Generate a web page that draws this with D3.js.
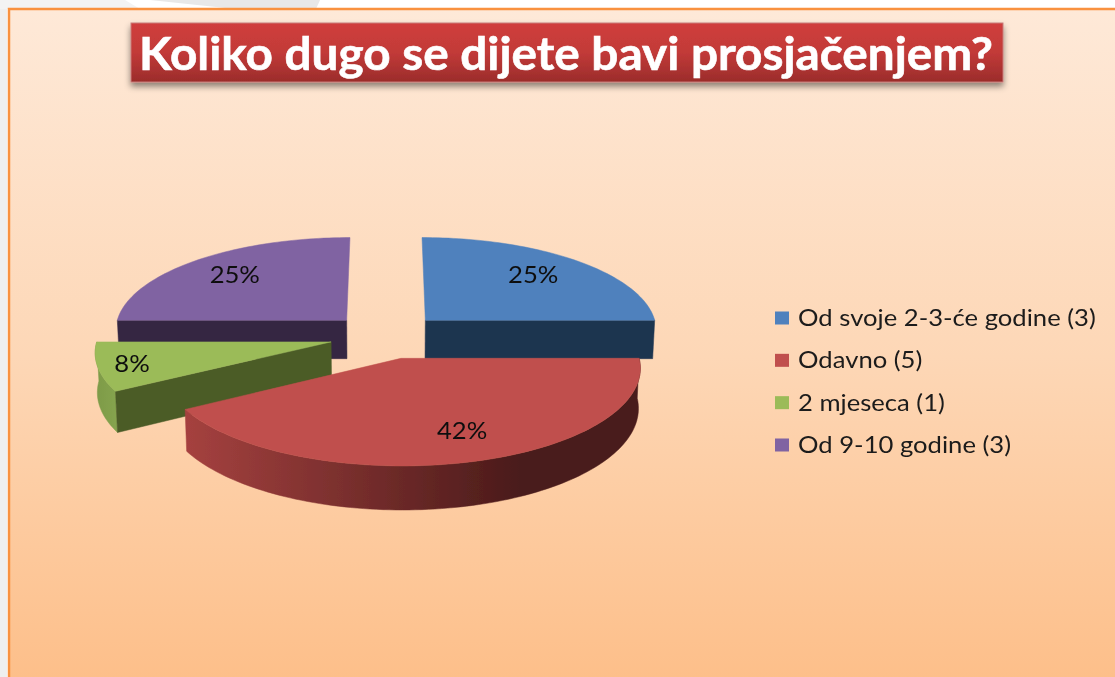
<!DOCTYPE html>
<html><head><meta charset="utf-8">
<script src="https://cdnjs.cloudflare.com/ajax/libs/d3/7.8.5/d3.min.js"></script>
<style>html,body{margin:0;padding:0;background:#fff;overflow:hidden}svg{display:block}</style>
</head><body><svg id="c" width="1115" height="677"></svg>
<script>
const titleText = "Koliko dugo se dijete bavi prosjačenjem?";
const categories = ["Od svoje 2-3-će godine (3)", "Odavno (5)", "2 mjeseca (1)", "Od 9-10 godine (3)"];
const values = [3, 5, 1, 3];
const percentLabels = ["25%", "42%", "8%", "25%"];
const topColors = ["#4f81bd", "#c0504d", "#9bbb59", "#8064a2"];
const wallColors = ["#1f3550", "#4a1b1a", "#4b5b27", "#352742"];
const labelNudge = [[1,-3],[14,2],[-37,5],[-5,-3]];

const W=1115,H=677;
const svg=d3.select("#c");
const defs=svg.append("defs");
const bg=defs.append("linearGradient").attr("id","bg").attr("x1",0).attr("x2",0).attr("y1",0).attr("y2",1);
[[0,"#fee9d8"],[0.5,"#fdd7b6"],[1,"#fdbd86"]].forEach(s=>bg.append("stop").attr("offset",s[0]).attr("stop-color",s[1]));
const tg=defs.append("linearGradient").attr("id","tb").attr("x1",0).attr("x2",0).attr("y1",0).attr("y2",1);
[[0,"#d03e3c"],[0.5,"#c23a38"],[1,"#9b2c2b"]].forEach(s=>tg.append("stop").attr("offset",s[0]).attr("stop-color",s[1]));
const rw=defs.append("linearGradient").attr("id","redWall").attr("gradientUnits","userSpaceOnUse").attr("x1",186).attr("x2",520).attr("y1",0).attr("y2",0);
[[0,"#a5413f"],[1,"#4a1b1a"]].forEach(s=>rw.append("stop").attr("offset",s[0]).attr("stop-color",s[1]));
const gw=defs.append("linearGradient").attr("id","greenWall").attr("x1",0).attr("x2",1).attr("y1",0).attr("y2",0);
[[0,"#7d9a48"],[1,"#86a44e"]].forEach(s=>gw.append("stop").attr("offset",s[0]).attr("stop-color",s[1]));
const sh=defs.append("filter").attr("id","sh").attr("x","-5%").attr("y","-20%").attr("width","110%").attr("height","150%");
sh.append("feDropShadow").attr("dx",0).attr("dy",4).attr("stdDeviation",3).attr("flood-color","#000").attr("flood-opacity",.45);
const soft=defs.append("filter").attr("id","soft");
soft.append("feGaussianBlur").attr("stdDeviation",.5);

// slide backdrop
const backdrop=svg.append("g");
backdrop.append("rect").attr("x",0).attr("y",0).attr("width",7).attr("height",H).attr("fill","#efefef");
backdrop.append("path").attr("fill","#f3f3f3").attr("d","M0,0 L125,0 L140,9 L0,9 Z");
backdrop.append("path").attr("fill","#e8e8e8").attr("d","M150,0 L320,0 L316,9 L235,9 Z");
svg.append("rect").attr("x",9).attr("y",9).attr("width",W+20).attr("height",H+20)
  .attr("fill","url(#bg)").attr("stroke","#f9913f").attr("stroke-width",2.5);

// pie geometry
const cx=386, cy=336, R=233, explode=56.5, tilt=.4, camera=2508, depth=39;
const project=(X,Y,z)=>{const s=camera/(camera+Y), t=1-.0075*z/depth;
  return [cx+X*s*t, cy-Y*tilt*s+z*s];};
const arcs=d3.pie().sort(null).value(d=>d)(values);
const line=d3.line();
const off=a=>{const m=(a.startAngle+a.endAngle)/2;return [explode*Math.sin(m),explode*Math.cos(m)];};
const pt=(a,ang,r,z)=>{const o=off(a);return project(o[0]+r*Math.sin(ang),o[1]+r*Math.cos(ang),z);};
const angles=(a,b)=>{const n=Math.max(4,Math.ceil(Math.abs(b-a)*40));return d3.range(n+1).map(i=>a+(b-a)*i/n);};
const pie=svg.append("g").attr("filter","url(#soft)");
const order=[3,0,2,1];
const wall=(pts,fill)=>pie.append("path").attr("d",line(pts)+"Z").attr("fill",fill).attr("stroke",fill).attr("stroke-width",.5);
order.forEach(i=>{
  const a=arcs[i], s=a.startAngle, e=a.endAngle;
  const rim=angles(s,e);
  const radial=ang=>[pt(a,ang,0,0),pt(a,ang,R,0),pt(a,ang,R,depth),pt(a,ang,0,depth)];
  const curved=()=>rim.map(t=>pt(a,t,R,0)).concat(rim.slice().reverse().map(t=>pt(a,t,R,depth)));
  if(i===0) wall(radial(e),wallColors[i]);
  if(i===3) wall(radial(s),wallColors[i]);
  if(i===2) { wall(curved(),"url(#greenWall)"); wall(radial(s),wallColors[i]); }
  if(i===1) wall(curved(),"url(#redWall)");
  const face=[pt(a,0,0,0)].concat(rim.map(t=>pt(a,t,R,0)));
  pie.append("path").attr("d",line(face)+"Z").attr("fill",topColors[i]).attr("stroke",topColors[i]).attr("stroke-width",.5);
});
// data labels
const stretch=1.115;
const txt=svg.append("g").attr("filter","url(#soft)");
arcs.forEach((a,i)=>{
  const m=(a.startAngle+a.endAngle)/2, p=pt(a,m,R*.7,0);
  txt.append("text").attr("transform",`translate(${p[0]+labelNudge[i][0]},${p[1]+labelNudge[i][1]}) scale(${stretch},1)`).attr("dy","0.35em")
    .attr("text-anchor","middle").attr("font-family","Lato, 'Open Sans', sans-serif").attr("font-size",23).attr("fill","#111").text(percentLabels[i]);
});
// title
svg.append("rect").attr("x",131).attr("y",23).attr("width",872).attr("height",59).attr("fill","url(#tb)").attr("stroke","#c77a78").attr("filter","url(#sh)");
svg.append("text").attr("x",139).attr("y",70).attr("textLength",854).attr("lengthAdjust","spacingAndGlyphs")
  .attr("font-family","Lato, 'Open Sans', sans-serif").attr("font-weight",700).attr("font-size",45).attr("fill","#fff").attr("stroke","#fff").attr("stroke-width",.6).attr("filter","url(#soft)").text(titleText);
// legend
const legY=d3.scalePoint().domain(categories).range([318,445]);
const leg=svg.append("g").attr("filter","url(#soft)");
categories.forEach((c,i)=>{
  leg.append("rect").attr("x",775).attr("y",legY(c)-6.5).attr("width",14).attr("height",13).attr("fill",topColors[i]);
  leg.append("text").attr("transform",`translate(798,${legY(c)}) scale(${stretch},1)`).attr("dy","0.35em").attr("font-family","Lato, 'Open Sans', sans-serif")
    .attr("font-size",23).attr("fill","#1a1a1a").text(c);
});
</script></body></html>
